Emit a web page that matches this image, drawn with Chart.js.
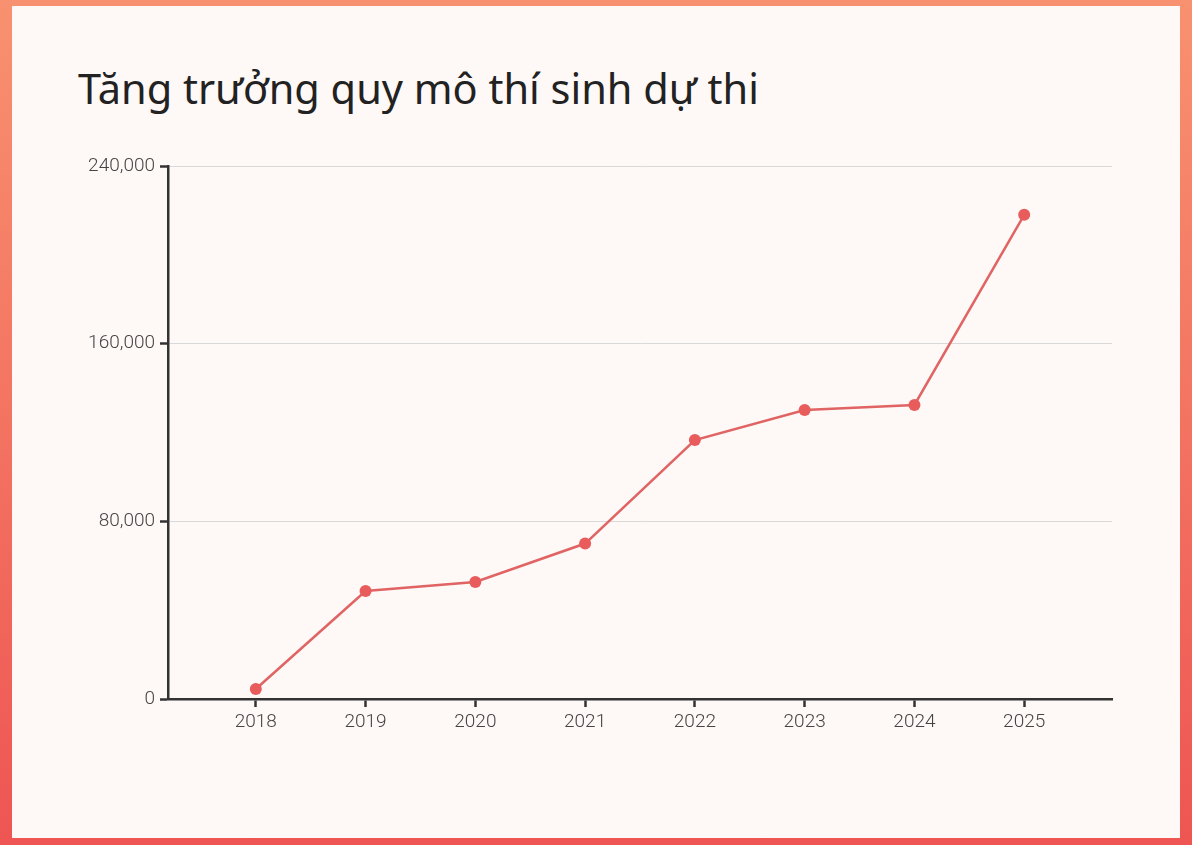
<!DOCTYPE html>
<html>
<head>
<meta charset="utf-8">
<script src="https://cdn.jsdelivr.net/npm/chart.js@4/dist/chart.umd.min.js"></script>
<style>
  html, body { margin: 0; padding: 0; }
  body {
    width: 1192px; height: 845px; overflow: hidden; position: relative;
    background: linear-gradient(to bottom, #f8916f, #ee5553);
  }
  #card {
    position: absolute; left: 12px; top: 6px; width: 1168px; height: 832px;
    background: #fef8f7;
  }
  #title {
    position: absolute; left: 78px; top: 67px; margin: 0;
    font-family: "Noto Sans", sans-serif; font-weight: 400; font-size: 41.5px;
    line-height: 42px; color: #222;
  }
  #wrap { position: absolute; left: 0; top: 0; width: 1192px; height: 845px; }
</style>
</head>
<body>
<div id="card"></div>
<h1 id="title">Tăng trưởng quy mô thí sinh dự thi</h1>
<div id="wrap"><canvas id="growthChart"></canvas></div>
<script>
const years = [2018, 2019, 2020, 2021, 2022, 2023, 2024, 2025];
const candidates = [4500, 48600, 52700, 70000, 116600, 130100, 132400, 218000];
const yTicks = [0, 80000, 160000, 240000];

const ctx = document.getElementById('growthChart').getContext('2d');

new Chart(ctx, {
    type: 'line',
    data: {
        datasets: [{
            label: 'Thí sinh',
            data: years.map((y, i) => ({ x: y, y: candidates[i] })),
            borderColor: '#e06464',
            borderWidth: 2.5,
            pointBackgroundColor: '#e85c5c',
            pointBorderWidth: 0,
            pointRadius: 6,
            tension: 0,
            fill: false
        }]
    },
    options: {
        responsive: true,
        maintainAspectRatio: false,
        animation: false,
        layout: { padding: { left: 60, top: 166, right: 80, bottom: 96 } },
        plugins: {
            legend: { display: false },
            tooltip: { enabled: false }
        },
        scales: {
            x: {
                type: 'linear',
                min: 2017.2,
                max: 2025.8,
                afterBuildTicks: s => { s.ticks = years.map(v => ({ value: v })); },
                afterFit: s => { s.height = 50; },
                border: { color: '#333', width: 2.5 },
                grid: { drawOnChartArea: false, tickColor: '#333', tickWidth: 2.5, tickLength: 8 },
                ticks: {
                    padding: 4,
                    color: '#444',
                    font: { family: 'Roboto', weight: 300, size: 19 },
                    callback: v => String(v)
                }
            },
            y: {
                min: 0,
                max: 240000,
                afterBuildTicks: s => { s.ticks = yTicks.map(v => ({ value: v })); },
                afterFit: s => { s.width = 108; },
                border: { color: '#333', width: 2.5 },
                grid: { color: '#d9d9d9', lineWidth: 1, tickColor: '#333', tickWidth: 2.5, tickLength: 8 },
                ticks: {
                    padding: 5,
                    color: '#444',
                    font: { family: 'Roboto', weight: 300, size: 19 },
                    callback: v => v.toLocaleString('en-US')
                }
            }
        }
    }
});
</script>
</body>
</html>
